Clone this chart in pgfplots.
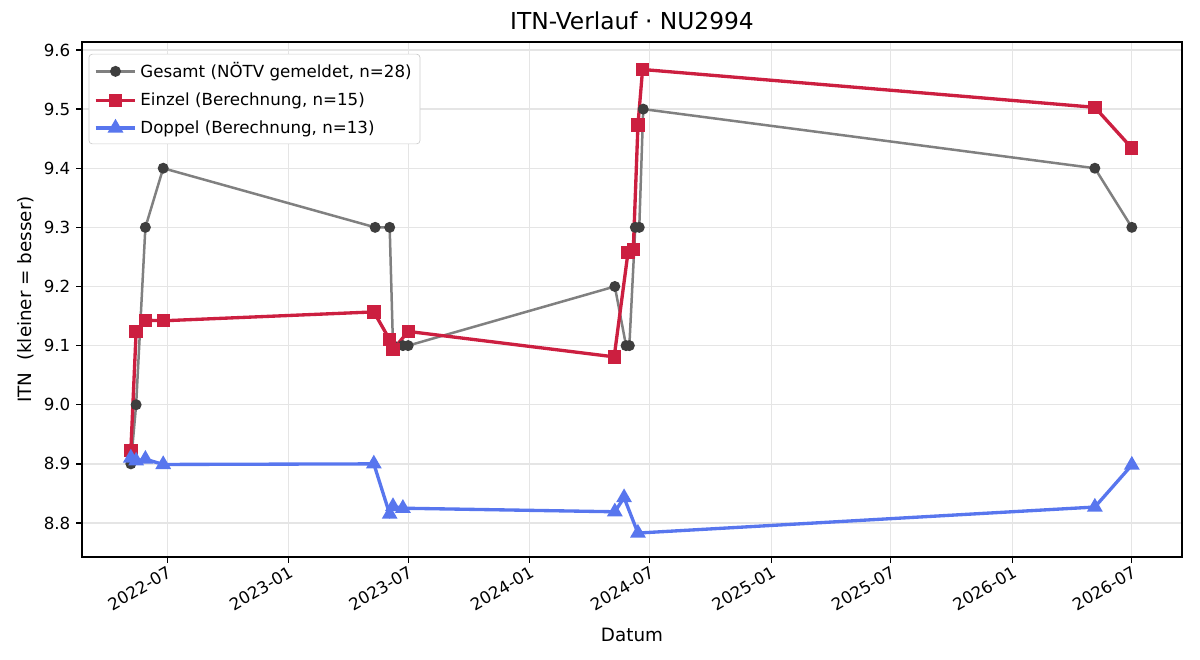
\documentclass[border=0pt]{standalone}
\usepackage{fontspec}
\setmainfont{DejaVu Sans}
\usepackage{pgfplots}
\pgfplotsset{compat=1.18}
\definecolor{gline}{RGB}{128,128,128}
\definecolor{gmark}{RGB}{62,62,62}
\definecolor{rline}{RGB}{204,31,64}
\definecolor{bline}{RGB}{88,118,238}
\begin{document}
\begin{tikzpicture}
\useasboundingbox (-49.2pt,-61.8pt) rectangle (670.8pt,334.2pt);
\begin{axis}[
  at={(0,0)}, anchor=south west,
  scale only axis, width=660pt, height=309pt,
  xmin=52, xmax=1718, ymin=8.7425, ymax=9.6135,
  xtick={181,365,546,730,912,1096,1277,1461,1642},
  xticklabels={2022-07,2023-01,2023-07,2024-01,2024-07,2025-01,2025-07,2026-01,2026-07},
  xticklabel style={rotate=30, anchor=north east, font=\fontsize{10}{12}\selectfont, inner sep=1pt},
  ytick={8.8,8.9,9.0,9.1,9.2,9.3,9.4,9.5,9.6},
  yticklabel style={/pgf/number format/fixed, /pgf/number format/fixed zerofill, /pgf/number format/precision=1, font=\fontsize{10}{12}\selectfont},
  /pgf/number format/assume math mode=true,
  tick align=outside, xtick pos=bottom, ytick pos=left,
  major tick length=3.5pt,
  tick style={black, line width=0.8pt},
  axis line style={line width=0.8pt},
  grid=major, major grid style={black!10, line width=0.8pt},
  title={ITN-Verlauf · NU2994},
  title style={font=\fontsize{14}{17}\selectfont, yshift=-2pt},
  xlabel={Datum}, ylabel={ITN\ \ (kleiner = besser)},
  label style={font=\fontsize{11}{13}\selectfont},
  xlabel style={yshift=-5pt},
  ylabel style={yshift=-1pt},
  legend image code/.code={\draw[mark repeat=2, mark phase=2] plot coordinates {(0cm,0cm) (0.42cm,0cm) (0.84cm,0cm)};},
  legend style={at={(0.006,0.977)}, anchor=north west, font=\fontsize{10}{12}\selectfont,
    draw=black!20, rounded corners=2pt, row sep=3.5pt, inner xsep=3pt, inner ysep=3pt, cells={anchor=west}},
  legend cell align=left,
]
\addplot[gline, line width=1.5pt, mark=*, mark size=2.5pt, mark options={fill=gmark, draw=gmark}] coordinates {
(126,8.9) (134,9.0) (148,9.3) (175,9.4) (496,9.3) (518,9.3) (523,9.1) (538,9.1) (546,9.1)
(859,9.2) (876,9.1) (881,9.1) (890,9.3) (896,9.3) (902,9.5) (1586,9.4) (1642,9.3)};
\addlegendentry{Gesamt (NÖTV gemeldet, n=28)}
\addplot[rline, line width=2pt, mark=square*, mark size=3pt, mark options={fill=rline, draw=rline}] coordinates {
(126,8.923) (134,9.124) (148,9.143) (175,9.142) (494,9.157) (518,9.110) (523,9.093) (546,9.124)
(858,9.081) (879,9.258) (887,9.263) (894,9.473) (901,9.567) (1586,9.503) (1642,9.434)};
\addlegendentry{Einzel (Berechnung, n=15)}
\addplot[bline, line width=2pt, mark=triangle*, mark size=3.5pt, mark options={fill=bline, draw=bline}] coordinates {
(126,8.910) (134,8.905) (148,8.908) (175,8.899) (494,8.900) (518,8.815) (523,8.828) (538,8.825)
(859,8.819) (873,8.843) (894,8.783) (1586,8.827) (1642,8.898)};
\addlegendentry{Doppel (Berechnung, n=13)}
\end{axis}
\end{tikzpicture}
\end{document}
